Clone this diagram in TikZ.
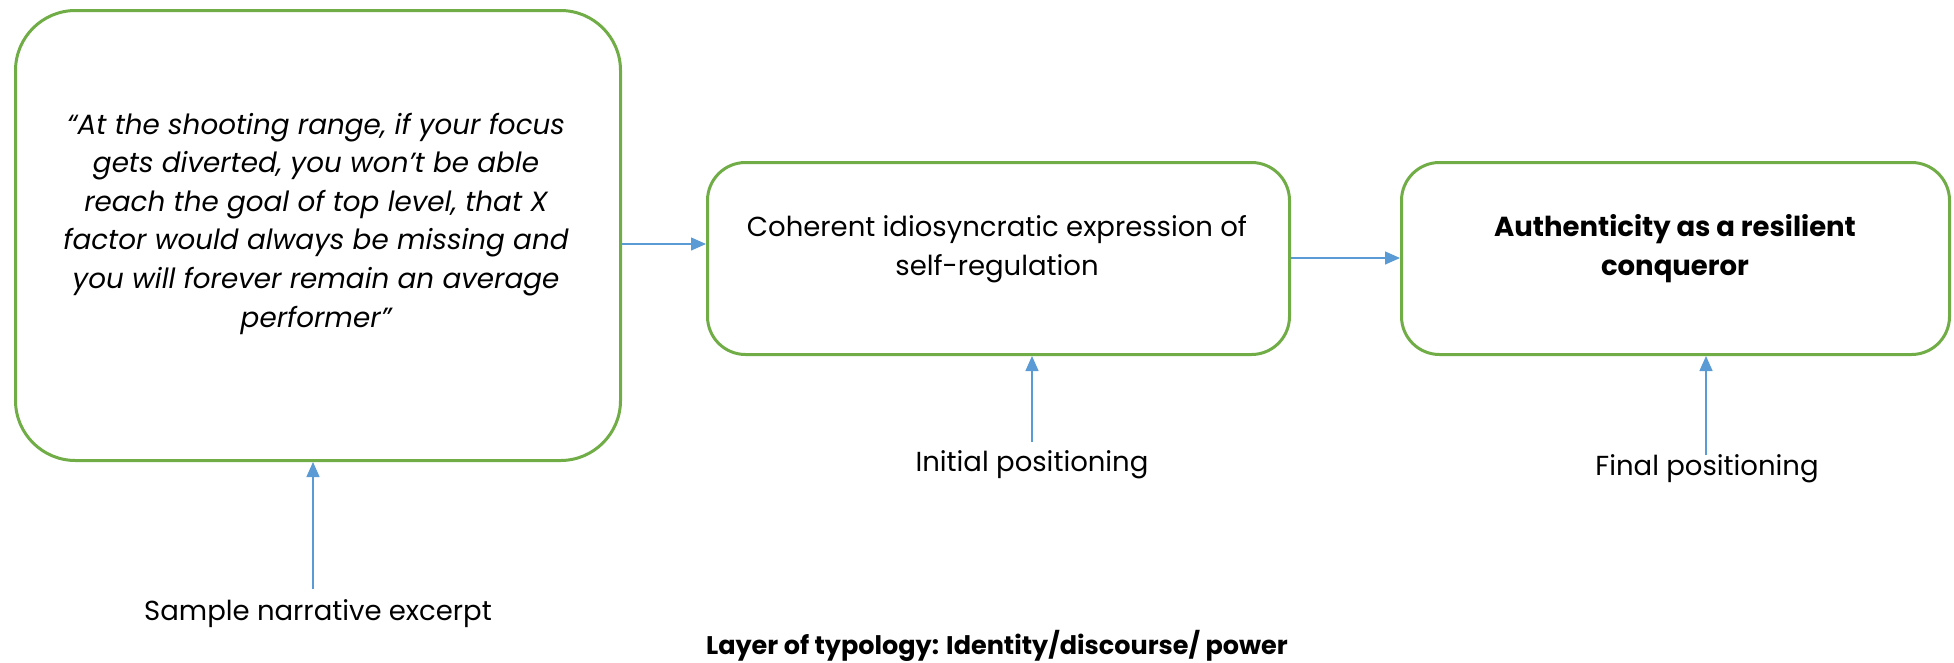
\documentclass[tikz,border=0pt]{standalone}
\usepackage{fontspec}
\setmainfont{Poppins}
\usetikzlibrary{arrows.meta}
\definecolor{boxgreen}{HTML}{70AD47}
\definecolor{arrowblue}{HTML}{5B9BD5}
\tikzset{
  box/.style={draw=boxgreen, line width=3pt, fill=white},
  flow/.style={draw=arrowblue, line width=1.4pt, -{Triangle[length=15pt,width=13pt]}},
  body/.style={font=\fontsize{27.5}{38.6}\selectfont, align=center, inner sep=0pt},
}
\begin{document}
\begin{tikzpicture}[x=1pt,y=-1pt]
\useasboundingbox (0,0) rectangle (1954,662);
% boxes
\node[box, rounded corners=60pt, minimum width=605pt, minimum height=450pt, anchor=north west] (b1) at (14,9) {};
\node[box, rounded corners=38pt, minimum width=582pt, minimum height=192pt, anchor=north west] (b2) at (706,161) {};
\node[box, rounded corners=38pt, minimum width=548pt, minimum height=192pt, anchor=north west] (b3) at (1400,161) {};
% box texts (anchored on the baseline of the last line)
\node[body, font=\fontsize{27.8}{38.6}\selectfont\itshape, anchor=base] (t1) at (316,327)
  {“At the shooting range, if your focus\\gets diverted, you won’t be able\\reach the goal of top level, that X\\factor would always be missing and\\you will forever remain an average\\performer”};
\node[body, anchor=base] (t2) at (997,275) {Coherent idiosyncratic expression of\\self-regulation};
\node[body, font=\fontsize{27.5}{38.6}\selectfont\bfseries, anchor=base] (t3) at (1675,275) {Authenticity as a resilient\\conqueror};
% labels below
\node[body, anchor=base] (l1) at (318,620) {Sample narrative excerpt};
\node[body, anchor=base] (l2) at (1032,471) {Initial positioning};
\node[body, anchor=base] (l3) at (1707,475) {Final positioning};
\node[body, font=\fontsize{25.5}{30}\selectfont\bfseries, anchor=base] (cap) at (997,654) {Layer of typology: Identity/discourse/ power};
% connectors
\draw[flow] (b1.east |- 0,244) -- (b2.west |- 0,244);
\draw[flow] (b2.east |- 0,258) -- (b3.west |- 0,258);
\draw[flow] (313,589) -- (313,0 |- b1.south);
\draw[flow] (1032,442) -- (1032,0 |- b2.south);
\draw[flow] (1706,455) -- (1706,0 |- b3.south);
\end{tikzpicture}
\end{document}
